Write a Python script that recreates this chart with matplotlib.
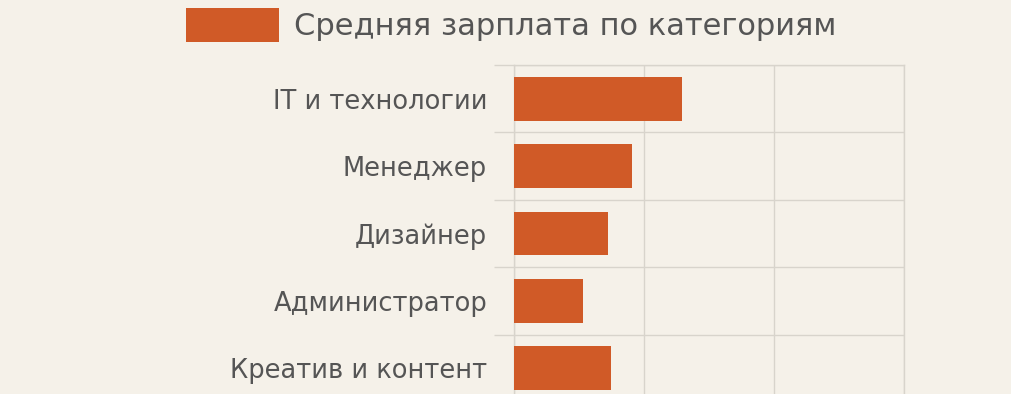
import matplotlib.pyplot as plt
import numpy as np
from matplotlib.patches import Patch

categories = ['IT и технологии', 'Менеджер', 'Дизайнер', 'Администратор', 'Креатив и контент']
salaries = [129000, 91000, 72000, 53000, 75000]
x_ticks = [0, 100000, 200000, 300000]
legend_label = 'Средняя зарплата по категориям'

bg = '#f5f1e9'
bar_color = '#d05a27'
grid_color = '#d8d4cc'
text_color = '#555555'

plt.rcParams['font.family'] = ['DejaVu Sans']

fig = plt.figure(figsize=(10.12, 3.94), dpi=100, facecolor=bg)
ax = fig.add_axes([514 / 1012, 1 - 402 / 394, 390 / 1012, 337 / 394])
ax.set_facecolor(bg)

y = np.arange(len(categories))
ax.barh(y, salaries, height=0.65, color=bar_color, zorder=3)
ax.set_ylim(len(categories) - 0.5, -0.5)
ax.set_xlim(x_ticks[0], x_ticks[-1])

ax.set_yticks(y)
ax.set_yticklabels(categories, fontsize=18.5, color=text_color)
ax.set_yticks(np.arange(len(categories) + 1) - 0.5, minor=True)
ax.tick_params(axis='y', which='major', length=0, pad=19.4)
ax.tick_params(axis='y', which='minor', length=14.4, color=grid_color, width=1)
ax.set_xticks(x_ticks)
ax.tick_params(axis='x', length=0, labelbottom=False)

ax.grid(axis='x', color=grid_color, linewidth=1, zorder=0)
ax.grid(axis='y', which='minor', color=grid_color, linewidth=1, zorder=0)
for side in ['left', 'right', 'top', 'bottom']:
    ax.spines[side].set_color(grid_color)
    ax.spines[side].set_linewidth(1)

handle = Patch(facecolor=bar_color, edgecolor='none')
fig.legend([handle], [legend_label], loc='center left',
           bbox_to_anchor=(186 / 1012, 1 - 25 / 394), frameon=False,
           prop={'size': 22}, labelcolor=text_color,
           handlelength=3.05, handleheight=1.31,
           handletextpad=0.5, borderpad=0, borderaxespad=0)

fig.savefig('out.png', dpi=100, facecolor=bg)
